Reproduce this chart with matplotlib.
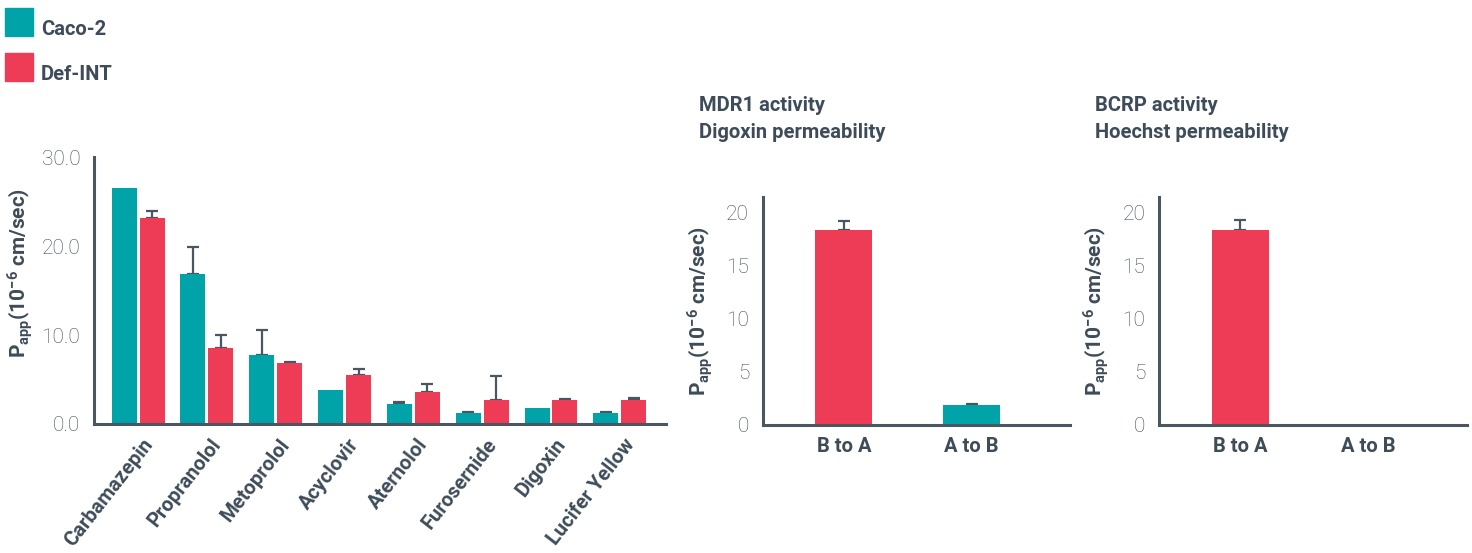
import numpy as np
import matplotlib
matplotlib.use("Agg")
import matplotlib.pyplot as plt

plt.rcParams["font.family"] = ["Roboto", "DejaVu Sans"]
plt.rcParams["mathtext.fontset"] = "custom"
plt.rcParams["mathtext.rm"] = "Roboto:bold"
plt.rcParams["mathtext.it"] = "Roboto:bold"
plt.rcParams["mathtext.bf"] = "Roboto:bold"

TEAL = "#00A3A8"
RED = "#EE3B56"
INK = "#3E4C59"
AXIS = "#4A5763"

# permeability panel
compounds = ["Carbamazepin", "Propranolol", "Metoprolol", "Acyclovir",
             "Aternolol", "Furosernide", "Digoxin", "Lucifer Yellow"]
caco2 = [26.5, 16.9, 7.7, 3.85, 2.25, 1.2, 1.8, 1.2]
caco2_err = [0.0, 3.0, 2.85, 0.0, 0.2, 0.15, 0.0, 0.1]
defint = [23.2, 8.5, 6.8, 5.45, 3.6, 2.7, 2.7, 2.7]
defint_err = [0.7, 1.45, 0.15, 0.7, 0.95, 2.7, 0.08, 0.25]

# transporter activity panels
directions = ["B to A", "A to B"]
mdr1 = [18.4, 1.9]
mdr1_err = [0.85, 0.1]
bcrp = [18.4, 0.0]
bcrp_err = [0.9, 0.0]

YLABEL = r"P$_{\rm app}$(10$^{-6}$ cm/sec)"

fig = plt.figure(figsize=(14.72, 5.53), dpi=100)


def style_axes(ax):
    for side in ("top", "right"):
        ax.spines[side].set_visible(False)
    for side in ("left", "bottom"):
        ax.spines[side].set_color(AXIS)
        ax.spines[side].set_linewidth(2.2)
    ax.tick_params(axis="both", length=0, colors=INK)
    ax.tick_params(axis="y", pad=10, labelsize=15)
    for lab in ax.get_yticklabels():
        lab.set_fontweight("light")


def upper_errors(ax, xs, vals, errs):
    # only the upward half, and only where a spread was measured
    xs, vals, errs = np.asarray(xs), np.asarray(vals), np.asarray(errs)
    keep = errs > 0
    ax.errorbar(xs[keep], vals[keep], yerr=[np.zeros(keep.sum()), errs[keep]],
                fmt="none", ecolor=AXIS, elinewidth=1.6, capsize=4.5,
                capthick=1.6, zorder=1)


# left: compound permeability
ax1 = fig.add_axes([0.0639, 0.2333, 0.3885, 0.4827])
x = np.arange(len(compounds))
w = 0.363
off = 0.203
ax1.bar(x - off, caco2, w, color=TEAL, zorder=2)
ax1.bar(x + off, defint, w, color=RED, zorder=2)
upper_errors(ax1, x - off, caco2, caco2_err)
upper_errors(ax1, x + off, defint, defint_err)
ax1.set_xlim(-0.64, 7.67)
ax1.set_ylim(0, 30)
ax1.set_yticks([0, 10, 20, 30])
ax1.set_yticklabels([f"{v:.1f}" for v in [0, 10, 20, 30]])
ax1.set_xticks(x + 0.05)
ax1.set_xticklabels(compounds, rotation=52, ha="right", va="top",
                    rotation_mode="anchor", fontsize=14.5, fontweight="bold")
ax1.tick_params(axis="x", pad=8)
style_axes(ax1)
ax1.set_ylabel(YLABEL, fontsize=15, fontweight="bold", color=INK)
ax1.yaxis.set_label_coords(-0.104, 0.565)


def activity_panel(rect, vals, errs, titles):
    ax = fig.add_axes(rect)
    xi = np.arange(len(directions))
    ax.bar(xi, vals, 0.445, color=[RED, TEAL], zorder=2)
    upper_errors(ax, xi, vals, errs)
    ax.set_xlim(-0.633, 1.77)
    ax.set_ylim(0, 21.5)
    ax.set_yticks([0, 5, 10, 15, 20])
    ax.set_xticks(xi)
    ax.set_xticklabels(directions, fontsize=14.5, fontweight="bold")
    ax.tick_params(axis="x", pad=9)
    style_axes(ax)
    ax.set_ylabel(YLABEL, fontsize=15, fontweight="bold", color=INK, labelpad=8)
    left = rect[0] - 64 / 1472
    for k, line in enumerate(titles):
        fig.text(left, 1 - (111 + 27 * k) / 553, line, fontsize=14.5,
                 fontweight="bold", color=INK, va="baseline", ha="left")
    return ax


activity_panel([0.5183, 0.2315, 0.2086, 0.4123], mdr1, mdr1_err,
               ["MDR1 activity", "Digoxin permeability"])
activity_panel([0.7874, 0.2315, 0.2092, 0.4123], bcrp, bcrp_err,
               ["BCRP activity", "Hoechst permeability"])

# legend swatches
for i, (name, col) in enumerate([("Caco-2", TEAL), ("Def-INT", RED)]):
    top = 1 - (8 + i * 45) / 553
    fig.patches.append(plt.Rectangle((5 / 1472, top - 28 / 553), 28 / 1472, 28 / 553,
                                     transform=fig.transFigure, color=col))
    fig.text(41 / 1472, 1 - (35 + i * 45) / 553, name, fontsize=14.5,
             fontweight="bold", color=INK, va="baseline", ha="left")

fig.savefig("out.png", dpi=100)
